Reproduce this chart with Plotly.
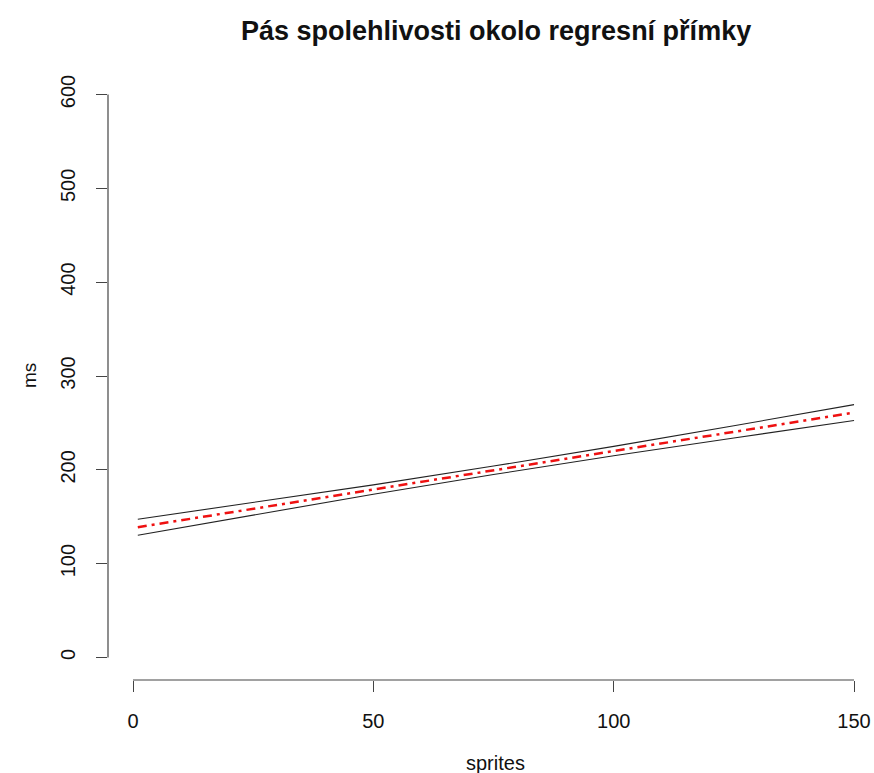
import plotly.graph_objects as go

# Regression line of response time (ms) on number of sprites with its confidence band
sprites = [1, 25, 50, 75, 100, 125, 150]
fit = [138.8, 158.5, 179.0, 199.5, 220.0, 240.5, 261.0]
upper = [147.3, 165.0, 184.0, 204.0, 225.0, 247.0, 269.5]
lower = [130.3, 152.0, 174.0, 195.0, 215.0, 234.0, 252.5]

x_ticks = [0, 50, 100, 150]
y_ticks = [0, 100, 200, 300, 400, 500, 600]

title_text = "Pás spolehlivosti okolo regresní přímky"
x_title = "sprites"
y_title = "ms"

FONT = "Liberation Sans, Arial, Helvetica, sans-serif"
AXIS_COLOR = "#444444"

fig = go.Figure()
fig.add_trace(go.Scatter(x=sprites, y=upper, mode="lines",
                         line=dict(color="#222222", width=1.1)))
fig.add_trace(go.Scatter(x=sprites, y=lower, mode="lines",
                         line=dict(color="#222222", width=1.1)))
fig.add_trace(go.Scatter(x=sprites, y=fit, mode="lines",
                         line=dict(color="#ee1111", width=2.5,
                                   dash="9px,5px,3px,5px")))

x_range = [-5.2, 154.15]
y_range = [-24, 624]

fig.update_layout(
    width=874, height=773,
    margin=dict(l=108, r=0, t=71.5, b=93, pad=0),
    paper_bgcolor="white", plot_bgcolor="white",
    showlegend=False,
    font=dict(family=FONT, size=20, color="#111111"),
    xaxis=dict(range=x_range, tickvals=x_ticks, ticktext=[str(v) for v in x_ticks],
               showgrid=False, zeroline=False, showline=False,
               ticks="outside", ticklen=11, tickwidth=1.2, tickcolor=AXIS_COLOR,
               ticklabelstandoff=12,
               tickfont=dict(family=FONT, size=20, color="#111111")),
    yaxis=dict(range=y_range, tickvals=y_ticks, ticktext=[str(v) for v in y_ticks],
               showgrid=False, zeroline=False, showline=False,
               ticks="outside", ticklen=11, tickwidth=1.2, tickcolor=AXIS_COLOR,
               tickangle=-90, ticklabelstandoff=13,
               tickfont=dict(family=FONT, size=20, color="#111111")),
)

# Axis lines spanning only the tick range
fig.add_shape(type="line", xref="x", yref="paper",
              x0=x_ticks[0], x1=x_ticks[-1], y0=0, y1=0,
              line=dict(color=AXIS_COLOR, width=1.2))
fig.add_shape(type="line", xref="paper", yref="y",
              x0=0, x1=0, y0=y_ticks[0], y1=y_ticks[-1],
              line=dict(color=AXIS_COLOR, width=1.2))

x_mid = (-4.96 + 155.96) / 2
fig.add_annotation(text=f"<b>{title_text}</b>", xref="x", yref="paper",
                   x=x_mid, y=1, yshift=41.5, showarrow=False,
                   xanchor="center", yanchor="middle",
                   font=dict(family=FONT, size=27, color="#111111"))
fig.add_annotation(text=x_title, xref="x", yref="paper",
                   x=x_mid, y=0, yshift=-83, showarrow=False,
                   xanchor="center", yanchor="middle",
                   font=dict(family=FONT, size=20, color="#111111"))
fig.add_annotation(text=y_title, xref="paper", yref="paper",
                   x=0, y=0.5, xshift=-79, showarrow=False, textangle=-90,
                   xanchor="center", yanchor="middle",
                   font=dict(family=FONT, size=19, color="#111111"))

fig.write_html("out.html")
